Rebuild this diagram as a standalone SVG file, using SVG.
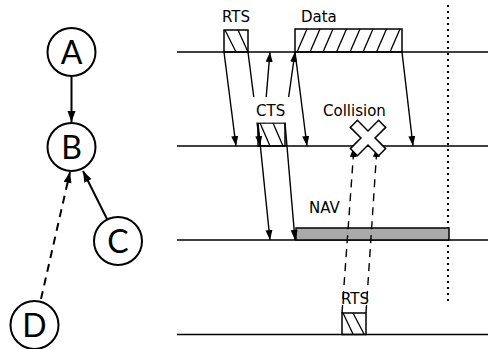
<svg xmlns="http://www.w3.org/2000/svg" width="488" height="349" viewBox="0 0 488 349">
<style>
.tl{stroke:#000;stroke-width:1.5;fill:none}
.box{stroke:#000;stroke-width:1.5;fill:none}
.hatch{stroke:#000;stroke-width:1.3}
.arr{stroke:#000;stroke-width:1.4;fill:none;marker-end:url(#ah)}
.dash{stroke-dasharray:8,6}
.lbl{font-family:"DejaVu Sans",sans-serif;font-size:15px;fill:#000}
.node circle{stroke:#000;stroke-width:2;fill:#fff}
.node text{font-family:Lato,"Noto Sans",sans-serif;font-size:32px;fill:#000;text-anchor:middle}
.garr{stroke:#000;stroke-width:2;fill:none;marker-end:url(#gh)}
</style>
<defs>
<marker id="ah" markerUnits="userSpaceOnUse" markerWidth="11" markerHeight="8" refX="10" refY="3.5" orient="auto"><path d="M0,0 L10,3.5 L0,7 z" fill="#000"/></marker>
<marker id="gh" markerUnits="userSpaceOnUse" markerWidth="12" markerHeight="9" refX="11" refY="4" orient="auto"><path d="M0,0 L11,4 L0,8 z" fill="#000"/></marker>
</defs>
<rect width="488" height="349" fill="#fff"/>

<!-- graph -->
<g id="graph-connectors">
<line class="garr" x1="71.5" y1="76" x2="71.5" y2="122"/>
<line class="garr" x1="107" y1="219" x2="83" y2="171"/>
<line class="garr dash" x1="41" y1="299" x2="70" y2="172"/>
</g>
<g id="nodeA" class="node"><circle cx="71.5" cy="52" r="24"/><text x="71.5" y="63.5">A</text></g>
<g id="nodeB" class="node"><circle cx="71.5" cy="147" r="24"/><text x="71.5" y="158.5">B</text></g>
<g id="nodeC" class="node"><circle cx="118" cy="241" r="24"/><text x="118" y="252.5">C</text></g>
<g id="nodeD" class="node"><circle cx="34.5" cy="325" r="24"/><text x="34.5" y="336.5">D</text></g>

<!-- timelines -->
<g id="timelines">
<line class="tl" x1="177" y1="52" x2="488" y2="52"/>
<line class="tl" x1="177" y1="146" x2="488" y2="146"/>
<line class="tl" x1="177" y1="240" x2="488" y2="240"/>
<line class="tl" x1="177" y1="334.5" x2="488" y2="334.5"/>
<line x1="448" y1="5" x2="448" y2="305" stroke="#000" stroke-width="2" stroke-dasharray="2,4"/>
</g>

<g id="rts1">
<rect class="box" x="224" y="30" width="24" height="22"/>
<line class="hatch" x1="225" y1="30" x2="236" y2="52"/>
<line class="hatch" x1="238" y1="30" x2="248" y2="52"/>
</g>
<g id="data">
<rect class="box" x="295" y="29" width="107" height="23"/>
<g class="hatch">
<line x1="297" y1="52" x2="307" y2="29"/>
<line x1="310" y1="52" x2="320" y2="29"/>
<line x1="323" y1="52" x2="333" y2="29"/>
<line x1="336.5" y1="52" x2="346.5" y2="29"/>
<line x1="350" y1="52" x2="360" y2="29"/>
<line x1="363" y1="52" x2="373" y2="29"/>
<line x1="376.5" y1="52" x2="386.5" y2="29"/>
<line x1="390" y1="52" x2="400" y2="29"/>
</g>
</g>
<g id="cts">
<rect class="box" x="258" y="123" width="27" height="23"/>
<line class="hatch" x1="260" y1="123" x2="270" y2="146"/>
<line class="hatch" x1="273" y1="123" x2="283" y2="146"/>
</g>
<g id="nav">
<rect x="296" y="228" width="153" height="12" fill="#aaa" stroke="#000" stroke-width="1.5"/>
</g>
<g id="rts2">
<rect class="box" x="342" y="313" width="24" height="21.5"/>
<line class="hatch" x1="343" y1="313" x2="353" y2="334"/>
<line class="hatch" x1="353" y1="313" x2="364" y2="334"/>
</g>

<g id="connectors">
<line class="arr" x1="224" y1="52" x2="236" y2="146"/>
<line class="arr" x1="248" y1="52" x2="260" y2="146"/>
<line class="arr" x1="264" y1="123" x2="270" y2="52"/>
<line class="arr" x1="285" y1="123" x2="295" y2="52"/>
<line class="arr" x1="295" y1="52" x2="307" y2="146"/>
<line class="arr" x1="402" y1="52" x2="413" y2="146"/>
<line class="arr" x1="258" y1="123" x2="270" y2="240"/>
<line class="arr" x1="285" y1="123" x2="295" y2="240"/>
<line class="arr dash" x1="342" y1="313" x2="354" y2="147"/>
<line class="arr dash" x1="366" y1="313" x2="377" y2="147"/>
</g>

<g id="labels">
<text class="lbl" x="222" y="22">RTS</text>
<text class="lbl" x="301" y="22">Data</text>
<rect x="250" y="97" width="42" height="25.5" fill="#fff"/>
<text class="lbl" x="256" y="116">CTS</text>
<text class="lbl" x="323" y="116">Collision</text>
<text class="lbl" x="309" y="213">NAV</text>
<text class="lbl" x="341" y="304">RTS</text>
</g>

<g id="collision">
<polygon points="5,-20 5,-5 20,-5 20,5 5,5 5,20 -5,20 -5,5 -20,5 -20,-5 -5,-5 -5,-20" transform="translate(368,138) rotate(45)" fill="#fff" stroke="#000" stroke-width="1.5"/>
</g>
</svg>
